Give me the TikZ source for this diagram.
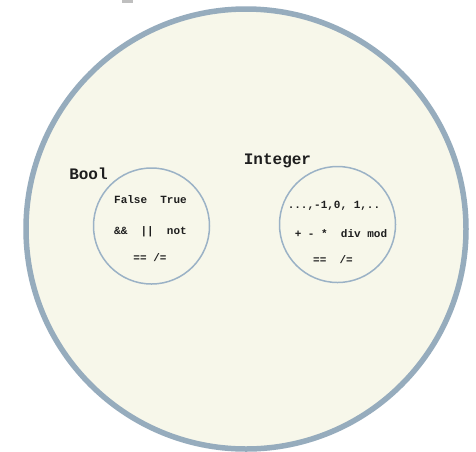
\documentclass[tikz,border=0pt]{standalone}
\usepackage{fontspec}
\setmonofont{Liberation Mono}
\definecolor{cream}{RGB}{247,247,234}
\definecolor{ring}{RGB}{150,172,189}
\definecolor{innerring}{RGB}{155,178,198}
\definecolor{ink}{RGB}{30,30,30}
\begin{document}
\begin{tikzpicture}[x=1pt,y=-1pt,
  title/.style={font=\ttfamily\bfseries\fontsize{16}{16}\selectfont, text=ink, inner sep=0pt},
  item/.style={font=\ttfamily\bfseries\fontsize{11}{11}\selectfont, text=ink, inner sep=0pt},
  setcircle/.style={circle, draw=innerring, line width=1.5pt, minimum size=116pt, inner sep=0pt}]
\useasboundingbox (0,0) rectangle (476,451);
\fill[white] (0,0) rectangle (476,451);
\fill[black!25] (122,0) rectangle (133,3);
\node[circle, fill=cream, draw=ring, line width=5.5pt, minimum size=440pt, inner sep=0pt] (universe) at (246,229) {};
\node[setcircle] (boolset) at (151.5,226) {};
\node[setcircle] (intset) at (337.5,224.5) {};
\node[title] (booltitle) at (88.5,174) {Bool};
\node[title] (inttitle) at (277.5,161) {Integer};
\node[item] (boolvals) at (150.5,200) {False\ \ True};
\node[item] (boolops) at (150.5,232) {\&\&\ \ ||\ \ not};
\node[item] (booleq) at (150,258) {== /=};
\node[item] (intvals) at (334,206) {...,-1,0, 1,..};
\node[item] (intops) at (341,234) {+ - *\ \ div mod};
\node[item] (inteq) at (333,260) {==\ \ /=};
\end{tikzpicture}
\end{document}
